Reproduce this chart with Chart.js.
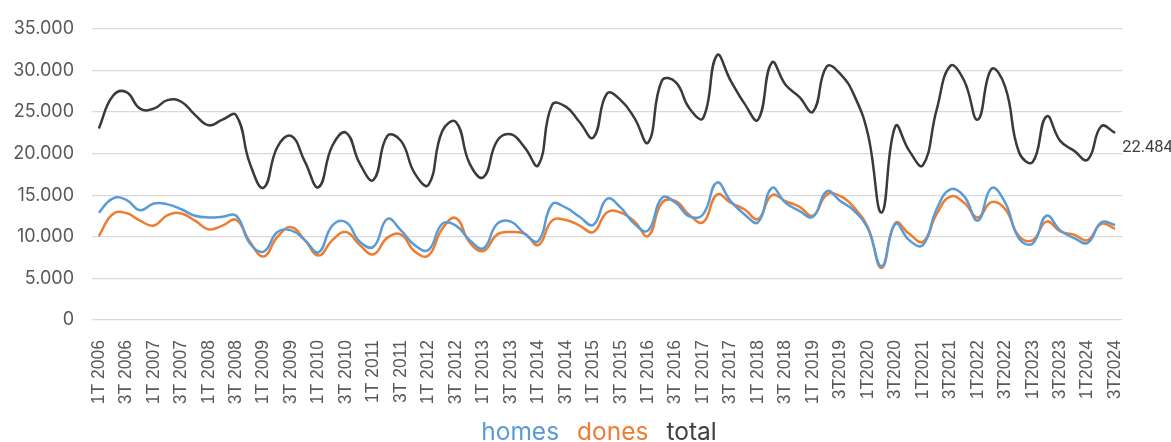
<!DOCTYPE html>
<html>
<head>
<meta charset="utf-8">
<script src="https://cdn.jsdelivr.net/npm/chart.js@4/dist/chart.umd.min.js"></script>
<style>
html,body{margin:0;padding:0;background:#fff;}
#wrap{width:1171px;height:442px;position:relative;}
</style>
</head>
<body>
<div id="wrap"><canvas id="c" width="1171" height="442"></canvas></div>
<script>
const categories = [
"1T 2006","2T 2006","3T 2006","4T 2006",
"1T 2007","2T 2007","3T 2007","4T 2007",
"1T 2008","2T 2008","3T 2008","4T 2008",
"1T 2009","2T 2009","3T 2009","4T 2009",
"1T 2010","2T 2010","3T 2010","4T 2010",
"1T 2011","2T 2011","3T 2011","4T 2011",
"1T 2012","2T 2012","3T 2012","4T 2012",
"1T 2013","2T 2013","3T 2013","4T 2013",
"1T 2014","2T 2014","3T 2014","4T 2014",
"1T 2015","2T 2015","3T 2015","4T 2015",
"1T 2016","2T 2016","3T 2016","4T 2016",
"1T 2017","2T 2017","3T 2017","4T 2017",
"1T 2018","2T 2018","3T 2018","4T 2018",
"1T 2019","2T 2019","3T2019","4T2019",
"1T2020","2T2020","3T2020","4T2020",
"1T2021","2T2021","3T2021","4T2021",
"1T2022","2T2022","3T2022","4T2022",
"1T2023","2T2023","3T2023","4T2023",
"1T2024","2T2024","3T2024"
];
const homes = [
12920,14600,14450,13190,14010,13900,13310,12530,12330,12410,12530,9200,8220,
10570,10770,9600,8140,11350,11745,9400,8810,12140,10770,9000,8420,
11550,11350,9600,8610,11550,11830,10370,9480,13900,13500,12410,11430,14560,
13500,11550,10770,14680,14090,12450,12720,16520,14290,12720,11745,15860,
14090,13120,12410,15470,14290,13120,10960,6460,11550,9600,9000,13310,15700,
14880,11940,15860,14090,9790,9200,12530,10770,9870,9280,11745,11430
];
const dones = [
10100,12720,12850,11940,11350,12610,12800,11940,10890,11350,12020,9400,7630,
9980,11160,9600,7750,9600,10570,9000,7900,9870,10260,8220,7750,
10960,12250,9320,8300,10260,10570,10370,9000,11940,12020,11350,10570,12920,
12920,11830,10100,14090,14290,12610,11745,15070,14090,13310,12140,15000,
14290,13620,12530,15070,14880,13500,11160,6260,11660,10370,9400,12720,14840,
14090,12330,14170,13310,10100,9600,11830,10650,10260,9600,11550,10960
];
const total = [
23020,26900,27400,25400,25400,26430,26230,24660,23400,24080,24600,18800,15900,
20790,22120,19030,15970,20940,22510,18800,16830,22120,21530,17620,16240,
22700,23800,18800,17150,21530,22320,20750,18600,25840,25640,23800,21930,27210,
26430,24270,21340,28775,28580,25450,24270,31790,28780,26040,24080,30930,
28270,26820,25050,30460,29560,27000,22320,12920,23290,20360,18600,25250,30540,
28780,24080,30150,27990,20160,18990,24470,21530,20360,19260,23290,22484
];
const yTicks = [0,5000,10000,15000,20000,25000,30000,35000];
const seriesColors = ['#5B9BD5','#ED7D31','#3A3A3A'];
const legendColors = ['#5B9BD5','#ED7D31','#404040'];

function fmt(v){ return String(Math.round(v)).replace(/\B(?=(\d{3})+(?!\d))/g,'.'); }

const endLabel = {
  id:'endLabel',
  afterDatasetsDraw(chart){
    const meta = chart.getDatasetMeta(2);
    const pt = meta.data[meta.data.length-1];
    const ctx = chart.ctx;
    ctx.save();
    ctx.font = '16.5px Roboto, sans-serif';
    ctx.fillStyle = '#404040';
    ctx.textAlign = 'left';
    ctx.textBaseline = 'middle';
    ctx.fillText(fmt(total[total.length-1]), pt.x + 7, pt.y + 15);
    ctx.restore();
  }
};

const textLegend = {
  id:'textLegend',
  afterDraw(chart){
    const ctx = chart.ctx;
    const ds = chart.data.datasets;
    ctx.save();
    ctx.font = '24.5px Inter, sans-serif';
    ctx.textBaseline = 'alphabetic';
    ctx.textAlign = 'left';
    const gap = 18;
    const widths = ds.map(d => ctx.measureText(d.label).width);
    const totalW = widths.reduce((a,b)=>a+b,0) + gap*(ds.length-1);
    let x = 599 - totalW/2;
    ds.forEach((d,i)=>{
      ctx.fillStyle = legendColors[i];
      ctx.fillText(d.label, x, 440);
      x += widths[i] + gap;
    });
    ctx.restore();
  }
};

new Chart(document.getElementById('c'), {
  type:'line',
  data:{
    labels: categories,
    datasets:[
      {label:'homes', data:homes, borderColor:seriesColors[0], borderWidth:2.5, pointRadius:0, tension:0.45, fill:false},
      {label:'dones', data:dones, borderColor:seriesColors[1], borderWidth:2.5, pointRadius:0, tension:0.45, fill:false},
      {label:'total', data:total, borderColor:seriesColors[2], borderWidth:2.5, pointRadius:0, tension:0.45, fill:false}
    ]
  },
  options:{
    responsive:false,
    animation:false,
    layout:{padding:{top:9,right:49,left:0,bottom:0}},
    plugins:{
      legend:{display:false},
      tooltip:{enabled:false}
    },
    scales:{
      x:{
        offset:true,
        grid:{display:false},
        border:{display:false},
        ticks:{
          autoSkip:false, maxRotation:90, minRotation:90, padding:12,
          color:'#595959', font:{size:17.5, family:'"Liberation Sans", Arial, sans-serif'},
          callback(v,i){ return i%2===0 ? categories[i] : ''; }
        },
        afterFit(s){ s.height = 122; }
      },
      y:{
        min:0, max:35000,
        border:{display:false},
        grid:{color:'#D9D9D9', lineWidth:1.3, drawTicks:false},
        ticks:{
          stepSize:5000, padding:18, color:'#595959',
          font:{size:18, family:'Inter, sans-serif'},
          callback(v){ return yTicks.includes(v) ? fmt(v) : ''; }
        },
        afterFit(s){ s.width = 92; }
      }
    }
  },
  plugins:[endLabel, textLegend]
});
</script>
</body>
</html>
